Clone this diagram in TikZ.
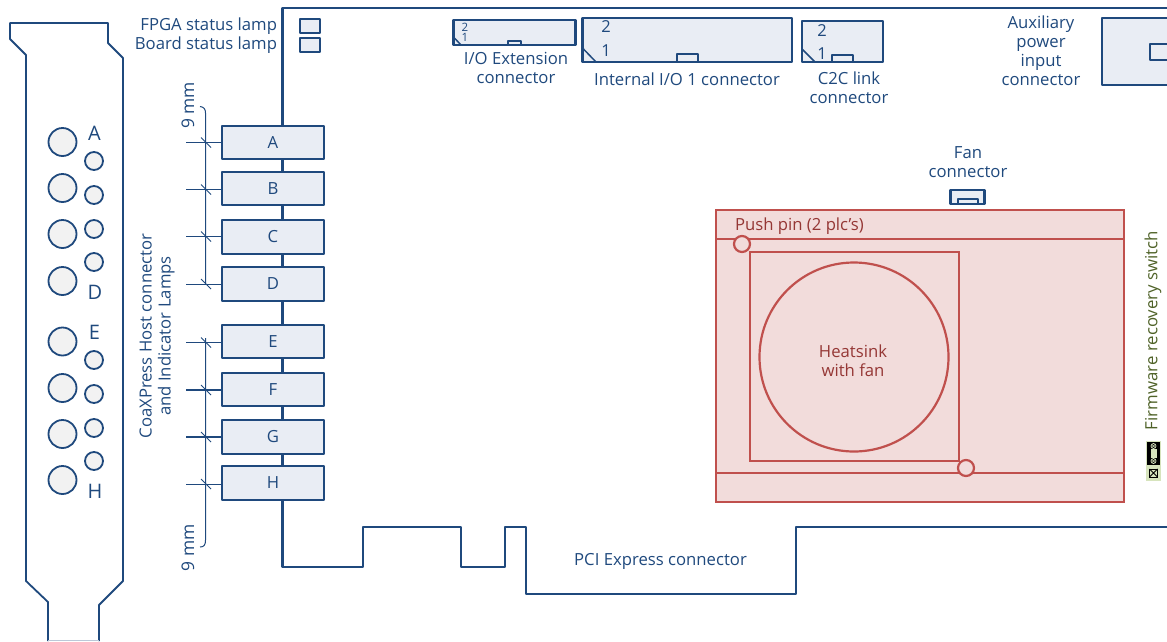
\documentclass[tikz,border=0pt]{standalone}
\usepackage{fontspec}
\setmainfont{Open Sans}
\definecolor{navy}{HTML}{1F497D}
\definecolor{boxfill}{HTML}{E9EDF4}
\definecolor{holefill}{HTML}{F2F2F2}
\definecolor{redline}{HTML}{C0504D}
\definecolor{redfill}{HTML}{F2DCDB}
\definecolor{redtext}{HTML}{953735}
\definecolor{greentext}{HTML}{4F6228}
\definecolor{swgreen}{HTML}{D7E4BD}
\tikzset{
  x=1pt,y=-1pt,
  every node/.style={outer sep=0pt},
  lab/.style={text=navy,font=\fontsize{16.7}{19}\selectfont,inner sep=0pt,align=center},
  outline/.style={draw=navy,line width=2.3pt,line join=round},
  thin outline/.style={draw=navy,line width=1.8pt,line join=round},
  portbox/.style={outline,fill=boxfill,minimum width=102pt,inner sep=0pt,text=navy,font=\fontsize{16.7}{19}\selectfont},
  rbox/.style={draw=redline,line width=2.2pt},
  rtext/.style={text=redtext,font=\fontsize{16.7}{19}\selectfont,inner sep=0pt,align=center},
  bighole/.style={circle,draw=navy,line width=1.8pt,fill=holefill,minimum size=28pt,inner sep=0pt},
  smallhole/.style={circle,draw=navy,line width=1.8pt,fill=holefill,minimum size=18pt,inner sep=0pt},
  conn/.style={outline,fill=boxfill,inner sep=0pt},
  tinylab/.style={text=navy,inner sep=0pt,font=\fontsize{16.5}{18}\selectfont},
  biglab/.style={text=navy,inner sep=0pt,font=\fontsize{20}{22}\selectfont},
  swmark/.style={draw=swgreen,line width=.7pt,circle,minimum size=5pt,inner sep=0pt},
}
\begin{document}
\begin{tikzpicture}
\useasboundingbox (0,0) rectangle (1167,641);
% bracket
\draw[thin outline] (48,641) -- (48,602) -- (26,581) -- (26,55) -- (10,39) -- (10,23) -- (108,23) -- (108,43) -- (123,58) -- (123,581) -- (99,605) -- (99,641);
\draw[navy!30,line width=1pt] (48,640.5) -- (99,640.5);
\foreach \n/\y in {1/142,2/188,3/234,4/281,5/341.5,6/388,7/434,8/480}
  \node[bighole] (big\n) at (62.5,\y) {};
\foreach \n/\y in {1/161,2/195,3/229,4/262,5/360,6/394,7/428,8/461}
  \node[smallhole] (small\n) at (94,\y) {};
\node[biglab] (la) at (94.5,133) {A};
\node[biglab] (ld) at (95,292) {D};
\node[biglab] (le) at (94.5,332) {E};
\node[biglab] (lh) at (95,491) {H};
% board
\draw[outline] (1167,8) -- (282.5,8) -- (282.5,567) -- (363,567) -- (363,527) -- (461,527) -- (461,567) -- (505,567) -- (505,527) -- (526,527) -- (526,594) -- (796,594) -- (796,527) -- (1167,527);
\node[lab] (pcie) at (660.5,561.5) {PCI Express connector};
% lamps
\node[conn,minimum width=20pt,minimum height=13.5pt] (lamp1) at (310,26) {};
\node[conn,minimum width=20pt,minimum height=14pt] (lamp2) at (310,45) {};
\node[lab,anchor=east] (t1) at (277,26.5) {FPGA status lamp};
\node[lab,anchor=east] (t2) at (277,45) {Board status lamp};
% port boxes
\foreach \n/\t/\y/\h in {A/A/142.5/33,B/B/188.5/33,C/C/237/34,D/D/284/34,E/E/341.5/33,F/F/389.5/33,G/G/437/34,H/H/483/34}{
  \node[portbox,minimum height=\h pt] (box\n) at (273,\y) {\t};
}
% dimension
\foreach \n/\y/\w in {A/142.5/1.2,B/189.5/1.7,C/236.5/1.4,D/284/1,E/342.5/1,F/390/1.7,G/437/1.4,H/484/1}{
  \coordinate (s\n) at (186,\y);
  \draw[navy,line width=\w pt] (s\n) -- (box\n.west |- s\n);
  \draw[navy,line width=.8pt] (201,\y-5) -- (211,\y+5);
}
\coordinate (dimtop) at (200,106.5);
\coordinate (dimbot) at (200,547);
\draw[navy,line width=1pt] (dimtop) .. controls (204,107) and (205.5,109) .. (205.5,113) -- (205.5,284);
\draw[navy,line width=1pt] (205.5,338) -- (205.5,540) .. controls (205.5,545) and (204,547) .. (dimbot);
\node[lab,rotate=90,font=\fontsize{17.4}{19}\selectfont] (d1) at (188,105.5) {9 mm};
\node[lab,rotate=90,font=\fontsize{17.4}{19}\selectfont] (d2) at (188,548) {9 mm};
\node[lab,rotate=90,align=center] (coax) at (157,336) {CoaXPress Host connector\\and Indicator Lamps};
% connectors top
\node[conn,anchor=north west,minimum width=122pt,minimum height=25pt] (ioext) at (453.5,20) {};
\node[conn,anchor=south,minimum width=13pt,minimum height=4pt,line width=1.8pt] at (514.5,45) {};
\draw[navy,line width=1.5pt] (453.5,37) -- (461,45);
\node[text=navy,inner sep=0pt,font=\fontsize{11.5}{12}\selectfont] (io2) at (465,27.5) {2};
\node[text=navy,inner sep=0pt,font=\fontsize{11.5}{12}\selectfont] (io1) at (465,37.5) {1};
\node[lab] (ioextt) at (516,67.5) {I/O Extension\\connector};
\node[conn,anchor=north west,minimum width=209.5pt,minimum height=44pt] (intio) at (582.5,18) {};
\node[conn,anchor=south,minimum width=21pt,minimum height=8pt] at (687.5,62) {};
\draw[navy,line width=1.5pt] (582.5,48) -- (596,62);
\node[tinylab] (in2) at (606,27) {2};
\node[tinylab] (in1) at (606,51) {1};
\node[lab] (intiot) at (687,79) {Internal I/O 1 connector};
\node[conn,anchor=north west,minimum width=81pt,minimum height=41pt] (c2c) at (802,21) {};
\node[conn,anchor=south,minimum width=21pt,minimum height=7pt] at (842.5,62) {};
\draw[navy,line width=1.5pt] (802,49) -- (815,62);
\node[tinylab] (c2) at (822,31) {2};
\node[tinylab] (c1) at (822,54) {1};
\node[lab] (c2ct) at (849,87.5) {C2C link\\connector};
\node[conn,anchor=north west,minimum width=80pt,minimum height=67pt] (aux) at (1102,18) {};
\node[conn,anchor=north west,minimum width=30pt,minimum height=16pt] (auxn) at (1150,44) {};
\node[lab] (auxt) at (1041,50.5) {Auxiliary\\power\\input\\connector};
\node[lab] (fant) at (968,162.5) {Fan\\connector};
\node[conn,anchor=north west,minimum width=34pt,minimum height=14pt] (fan) at (950.5,190) {};
\node[conn,anchor=south,minimum width=20pt,minimum height=5pt,line width=1.5pt] at (968,204) {};
% heatsink
\node[rbox,fill=redfill,anchor=north west,minimum width=408pt,minimum height=292pt,inner sep=0pt] (hs) at (716,210) {};
\coordinate (l1) at (716,239);
\coordinate (l2) at (716,473);
\draw[redline,line width=2.2pt] (l1) -- (l1 -| hs.east);
\draw[redline,line width=2.2pt] (l2) -- (l2 -| hs.east);
\node[rbox,anchor=north west,minimum width=209pt,minimum height=209pt,inner sep=0pt] (sq) at (750,252) {};
\node[rbox,circle,minimum size=189pt,inner sep=0pt] (fanc) at (854,357) {};
\node[rbox,circle,fill=redfill,minimum size=16pt,inner sep=0pt] (pin1) at (742,244) {};
\node[rbox,circle,fill=redfill,minimum size=16pt,inner sep=0pt] (pin2) at (966,468) {};
\node[rtext,anchor=west] (pp) at (735,226) {Push pin (2 plc’s)};
\node[rtext] (hst) at (853,361) {Heatsink\\ with fan};
% switch
\node[text=greentext,rotate=90,inner sep=0pt,font=\fontsize{16.8}{19}\selectfont] (fw) at (1153,330.5) {Firmware recovery switch};
\fill[swgreen] (1146,441) rectangle (1161,481);
\fill[black] (1147,442) rectangle (1160,465);
\fill[swgreen] (1150.5,449) rectangle (1156.5,458);
\node[swmark] (m1) at (1153.5,446) {};
\node[swmark] (m2) at (1153.5,461) {};
\draw[swgreen,line width=.6pt] (m1.north west) -- (m1.south east) (m1.north east) -- (m1.south west);
\draw[swgreen,line width=.6pt] (m2.north west) -- (m2.south east) (m2.north east) -- (m2.south west);
\node[draw=black,line width=1pt,minimum size=8pt,inner sep=0pt] (m3) at (1153.5,473) {};
\draw[black,line width=.8pt] (m3.north west) -- (m3.south east) (m3.north east) -- (m3.south west);
\end{tikzpicture}
\end{document}
